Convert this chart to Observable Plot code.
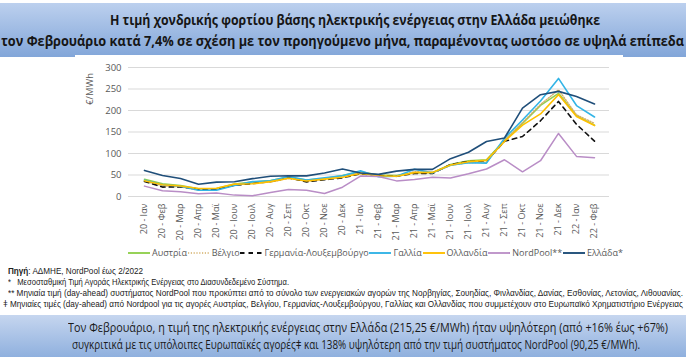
<!DOCTYPE html>
<html><head><meta charset="utf-8">
<script src="https://cdn.jsdelivr.net/npm/d3@7"></script>
<script src="https://cdn.jsdelivr.net/npm/@observablehq/plot@0.6"></script>
<style>
body{margin:0;width:686px;height:360px;overflow:hidden;background:#fff;position:relative;font-family:"Open Sans",sans-serif}
#banner{position:absolute;left:0;top:3px;width:686px;height:54px;background:linear-gradient(#bcd0ee,#82a6d9)}
#whitebox{position:absolute;left:75px;top:55px;width:548px;height:10px;background:#fff}
.fit{position:absolute;white-space:nowrap;transform-origin:0 50%}
.title{font-weight:bold;font-size:14px;line-height:18px;color:#161616;font-family:"Open Sans",sans-serif}
.note{font-size:9px;line-height:10px;color:#222;font-family:"Liberation Sans",sans-serif}
.foot{font-size:12px;line-height:15px;color:#1a1a1a;font-family:"Open Sans",sans-serif}
#footer{position:absolute;left:0;top:315px;width:686px;height:42px;background:linear-gradient(#c6d6ef,#8fb0de)}
#chart{position:absolute;left:0;top:58px}
#ylab{position:absolute;left:89px;top:89px;transform:translate(-50%,-50%) rotate(-90deg);font-size:9.5px;color:#595959;font-family:"Open Sans",sans-serif;white-space:nowrap}
#legend{position:absolute;top:246px;left:128px;width:495px;display:flex;justify-content:space-between;align-items:center;font-size:9px;color:#595959;font-family:"Open Sans",sans-serif}
#legend .it{display:flex;align-items:center;white-space:nowrap}
#legend svg{margin-right:2px}
</style></head>
<body>
<div id="banner"></div>
<div id="whitebox"></div>
<div class="fit title" data-l="110" data-w="490" style="top:11px">Η τιμή χονδρικής φορτίου βάσης ηλεκτρικής ενέργειας στην Ελλάδα μειώθηκε</div>
<div class="fit title" data-l="1" data-w="683" style="top:32px">τον Φεβρουάριο κατά 7,4% σε σχέση με τον προηγούμενο μήνα, παραμένοντας ωστόσο σε υψηλά επίπεδα</div>
<div id="chart"></div>
<div id="ylab">€/MWh</div>
<div id="legend"></div>
<div class="fit note" data-l="8" data-w="135" style="top:266px"><b>Πηγή</b>: ΑΔΜΗΕ, NordPool έως 2/2022</div>
<div class="fit note" data-l="8" data-w="281" style="top:277px">*&nbsp;&nbsp;&nbsp;Μεσοσταθμική Τιμή Αγοράς Ηλεκτρικής Ενέργειας στο Διασυνδεδεμένο Σύστημα.</div>
<div class="fit note" data-l="8" data-w="675" style="top:288px">** Μηνιαία τιμή (day-ahead) συστήματος NordPool που προκύπτει από το σύνολο των ενεργειακών αγορών της Νορβηγίας, Σουηδίας, Φινλανδίας, Δανίας, Εσθονίας, Λετονίας, Λιθουανίας.</div>
<div class="fit note" data-l="3" data-w="680" style="top:299px">ǂ Μηνιαίες τιμές (day-ahead) από Nordpool για τις αγορές Αυστρίας, Βελγίου, Γερμανίας-Λουξεμβούργου, Γαλλίας και Ολλανδίας που συμμετέχουν στο Ευρωπαϊκό Χρηματιστήριο Ενέργειας</div>
<div id="footer"></div>
<div class="fit foot" data-l="68" data-w="600" style="top:320px">Τον Φεβρουάριο, η τιμή της ηλεκτρικής ενέργειας στην Ελλάδα (215,25 €/MWh) ήταν υψηλότερη (από +16% έως +67%)</div>
<div class="fit foot" data-l="72" data-w="568" style="top:337px">συγκριτικά με τις υπόλοιπες Ευρωπαϊκές αγορέςǂ και 138% υψηλότερη από την τιμή συστήματος NordPool (90,25 €/MWh).</div>
<script>
const months = ["20 - Ιαν","20 - Φεβ","20 - Μαρ","20 - Απρ","20 - Μαϊ","20 - Ιουν","20 - Ιουλ","20 - Αυγ","20 - Σεπ","20 - Οκτ","20 - Νοε","20 - Δεκ",
"21 - Ιαν","21 - Φεβ","21 - Μαρ","21 - Απρ","21 - Μαϊ","21 - Ιουν","21 - Ιουλ","21 - Αυγ","21 - Σεπ","21 - Οκτ","21 - Νοε","21 - Δεκ","22 - Ιαν","22 - Φεβ"];
const seriesNames = ["Αυστρία","Βέλγιο","Γερμανία-Λουξεμβούργο","Γαλλία","Ολλανδία","NordPool**","Ελλάδα*"];
const austria = [40.1,29.4,25.5,18.0,18.5,28.9,33.5,37.0,44.5,38.5,42.0,49.0,57.6,49.8,48.6,55.4,55.5,74.2,83.0,85.2,130,170,212,240,188,166];
const belgium = [35.9,24.9,22.5,14.9,15.9,26.0,31.0,33.3,42.1,35.6,41.1,45.7,56.0,47.9,46.6,58.0,55.6,72.4,78.9,79.5,131,172,214,248,190,170];
const germany = [35.0,21.9,22.5,17.1,17.6,26.2,30.1,34.9,43.7,34.0,38.8,43.5,52.8,48.8,47.2,53.6,53.6,74.1,81.4,82.7,128.4,139.5,176.2,221.1,167.9,128.8];
const france = [37.6,27.3,23.9,14.6,14.4,25.5,34.6,36.4,46.4,38.1,43.7,48.4,59.6,46.1,47.2,63.2,55.0,72.6,78.4,77.6,135.7,178,222,274.6,211.5,184.9];
const netherlands = [36.6,27.2,24.5,18.7,19.2,28.8,29.5,34.6,42.6,36.0,40.4,44.9,53.7,48.2,47.0,55.6,56.0,73.1,81.0,84.0,128,166,192,237,186,165];
const nordpool = [24.1,13.4,10.8,6.3,8.4,3.2,1.9,9.4,16.5,14.5,6.9,21.7,47.6,46.7,36.3,39.6,44.5,43,53,64,85.4,57.4,83.2,146.7,93.3,90.25];
const greece = [60.6,49.0,41.7,28.5,33.5,34.3,41.5,47.0,48.3,48.0,54.6,64.0,54.5,51.4,59.0,63.0,63.0,88.0,103.0,128.0,136.0,205.6,236.8,244.5,232.4,215.25];
const yTicks = [0,50,100,150,200,250,300];

const values = [austria,belgium,germany,france,netherlands,nordpool,greece];
const styles = [
  {stroke:"#92D050", w:1.6, dash:null},
  {stroke:"#D4B06A", w:1.4, dash:"1.2,1.6"},
  {stroke:"#111111", w:1.6, dash:"4.5,4"},
  {stroke:"#33B4E6", w:1.6, dash:null},
  {stroke:"#FFC000", w:1.6, dash:null},
  {stroke:"#B98DC6", w:1.5, dash:null},
  {stroke:"#1F4E79", w:1.6, dash:null}
];
const data = seriesNames.map((s,k)=>values[k].map((v,i)=>({s, m:months[i], v})));

const chart = Plot.plot({
  width:686, height:190,
  marginLeft:128, marginRight:77, marginTop:9, marginBottom:52,
  style:{fontFamily:"'Open Sans',sans-serif", color:"#595959", background:"transparent"},
  x:{type:"point", domain:months, padding:0.5},
  y:{domain:[0,300]},
  marks:[
    Plot.gridY(yTicks,{stroke:"#d9d9d9", strokeOpacity:1, strokeWidth:1}),
    Plot.axisY({ticks:yTicks, tickSize:0, tickPadding:7, label:null, fontSize:9.5}),
    Plot.axisX({tickRotate:-90, tickSize:0, tickPadding:7, label:null, fontSize:9}),
    ...data.map((d,k)=>Plot.line(d,{x:"m", y:"v", stroke:styles[k].stroke, strokeWidth:styles[k].w, strokeDasharray:styles[k].dash, strokeLinejoin:"round"}))
  ]
});
document.getElementById("chart").appendChild(chart);

const leg = document.getElementById("legend");
seriesNames.forEach((s,k)=>{
  const it = document.createElement("div"); it.className="it";
  const st = styles[k];
  it.innerHTML = `<svg width="22" height="6"><line x1="0" x2="22" y1="3" y2="3" stroke="${st.stroke}" stroke-width="${st.w+0.3}" ${st.dash?`stroke-dasharray="${st.dash}"`:""}/></svg><span>${s}</span>`;
  leg.appendChild(it);
});

document.querySelectorAll(".fit").forEach(el=>{
  const w = el.getBoundingClientRect().width;
  const target = +el.dataset.w;
  el.style.left = el.dataset.l + "px";
  el.style.transform = `scaleX(${target/w})`;
});
</script>
</body></html>
